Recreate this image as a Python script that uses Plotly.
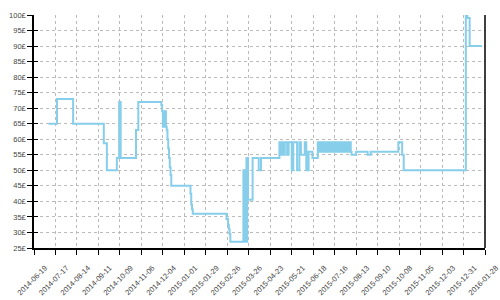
import plotly.graph_objects as go

# ---- data ----
dates = [
    "2014-07-08", "2014-07-19", "2014-08-09", "2014-09-18", "2014-09-22",
    "2014-10-05", "2014-10-08", "2014-10-10", "2014-10-30", "2014-11-02",
    "2014-12-02", "2014-12-03", "2014-12-04", "2014-12-05", "2014-12-06",
    "2014-12-07", "2014-12-08", "2014-12-09", "2014-12-10", "2014-12-11",
    "2014-12-12", "2014-12-13", "2014-12-14", "2014-12-15",
    "2015-01-09", "2015-01-10", "2015-01-11", "2015-01-12",
    "2015-02-25", "2015-02-27", "2015-02-28", "2015-03-01", "2015-03-02",
    "2015-03-19", "2015-03-20", "2015-03-21", "2015-03-22", "2015-03-23",
    "2015-03-23 12:00", "2015-03-24", "2015-03-25",
    "2015-03-31", "2015-04-08", "2015-04-11",
    "2015-05-05", "2015-05-07", "2015-05-08", "2015-05-09", "2015-05-10",
    "2015-05-11", "2015-05-12", "2015-05-15", "2015-05-17", "2015-05-21",
    "2015-05-23", "2015-05-28", "2015-05-31", "2015-06-02", "2015-06-07",
    "2015-06-09", "2015-06-10", "2015-06-11", "2015-06-12", "2015-06-17",
    "2015-06-24", "2015-06-25", "2015-06-26", "2015-06-27", "2015-06-28",
    "2015-06-29", "2015-06-30", "2015-07-01", "2015-07-02", "2015-07-03",
    "2015-07-04", "2015-07-05", "2015-07-06", "2015-07-07", "2015-07-08",
    "2015-07-09", "2015-07-10", "2015-07-11", "2015-07-12", "2015-07-13",
    "2015-07-14", "2015-07-15", "2015-07-16", "2015-07-17", "2015-07-18",
    "2015-07-19", "2015-07-20", "2015-07-21", "2015-07-22", "2015-07-23",
    "2015-07-24", "2015-07-25", "2015-07-26", "2015-07-27", "2015-07-28",
    "2015-07-29", "2015-07-30", "2015-07-31", "2015-08-01", "2015-08-02",
    "2015-08-03", "2015-08-04", "2015-08-05", "2015-08-06",
    "2015-08-07", "2015-08-13", "2015-08-28", "2015-09-01",
    "2015-10-07", "2015-10-12", "2015-10-14",
    "2016-01-03", "2016-01-05", "2016-01-08", "2016-01-24",
]
prices = [
    65, 73, 65, 58.7, 50,
    54, 72, 54, 63, 72,
    71, 69, 64, 69, 64,
    69, 64, 63, 60, 57,
    54, 51, 48.5, 45,
    42.5, 39, 37.5, 36,
    34.3, 32.5, 31, 29.5, 27,
    50, 27, 50, 27, 54,
    27, 54, 40.5,
    54, 50, 54,
    59, 55, 59, 55, 59,
    55, 59, 55, 59, 50,
    59, 50, 59, 55, 59,
    50, 56, 50, 56, 54,
    59, 56, 59, 56, 59,
    56, 59, 56, 59, 56,
    59, 56, 59, 56, 59,
    56, 59, 56, 59, 56,
    59, 56, 59, 56, 59,
    56, 59, 56, 59, 56,
    59, 56, 59, 56, 59,
    56, 59, 56, 59, 56,
    59, 56, 59, 56,
    55, 56, 55, 56,
    59, 55, 50,
    100, 99, 90, 90,
]

x_ticks = [
    "2014-06-19", "2014-07-17", "2014-08-14", "2014-09-11", "2014-10-09",
    "2014-11-06", "2014-12-04", "2015-01-01", "2015-01-29", "2015-02-26",
    "2015-03-26", "2015-04-23", "2015-05-21", "2015-06-18", "2015-07-16",
    "2015-08-13", "2015-09-10", "2015-10-08", "2015-11-05", "2015-12-03",
    "2015-12-31", "2016-01-28",
]
y_ticks = [25, 30, 35, 40, 45, 50, 55, 60, 65, 70, 75, 80, 85, 90, 95, 100]
y_labels = [f"{v}£" for v in y_ticks]

font = dict(family="Liberation Sans, Arial, sans-serif", size=7.5, color="#444")

fig = go.Figure()
fig.add_trace(go.Scatter(
    x=dates, y=prices, mode="lines", line=dict(shape="hv", color="#87CEEB", width=2),
    showlegend=False, hoverinfo="skip",
))
# invisible trace to enable the overlay axis (inside ticks)
fig.add_trace(go.Scatter(x=[dates[0]], y=[prices[0]], yaxis="y2", mode="markers",
                         marker=dict(opacity=0), showlegend=False, hoverinfo="skip"))

fig.update_layout(
    width=500, height=300,
    margin=dict(l=34, r=15, t=15, b=52, autoexpand=False),
    paper_bgcolor="white", plot_bgcolor="white",
    font=font,
    xaxis=dict(
        type="date", range=[x_ticks[0], x_ticks[-1]], automargin=False,
        tickvals=x_ticks, ticktext=x_ticks, tickangle=-45,
        ticks="outside", ticklen=5, tickcolor="black", tickwidth=1,
        showline=True, linecolor="black", linewidth=1.5,
        showgrid=True, gridcolor="#bbbbbb", griddash="dot", gridwidth=1,
        zeroline=False, tickfont=font, ticklabelshift=11, ticklabelstandoff=6,
        ticklabeloverflow="allow",
    ),
    yaxis=dict(
        range=[25, 100], tickvals=y_ticks, ticktext=y_labels, automargin=False,
        ticks="outside", ticklen=5, tickcolor="black", tickwidth=1,
        showline=True, linecolor="black", linewidth=1.5,
        showgrid=True, gridcolor="#bbbbbb", griddash="dot", gridwidth=1,
        zeroline=False, tickfont=font, ticklabeloverflow="allow",
    ),
    yaxis2=dict(
        overlaying="y", side="left", range=[25, 100], tickvals=y_ticks,
        ticks="inside", ticklen=4, tickcolor="black", tickwidth=1, automargin=False,
        showticklabels=False, showgrid=False, zeroline=False, showline=False,
    ),
    shapes=[dict(type="line", xref="paper", yref="paper", x0=1, x1=1, y0=0, y1=1,
                 line=dict(color="black", width=1.5))],
)

fig.write_html("out.html")
